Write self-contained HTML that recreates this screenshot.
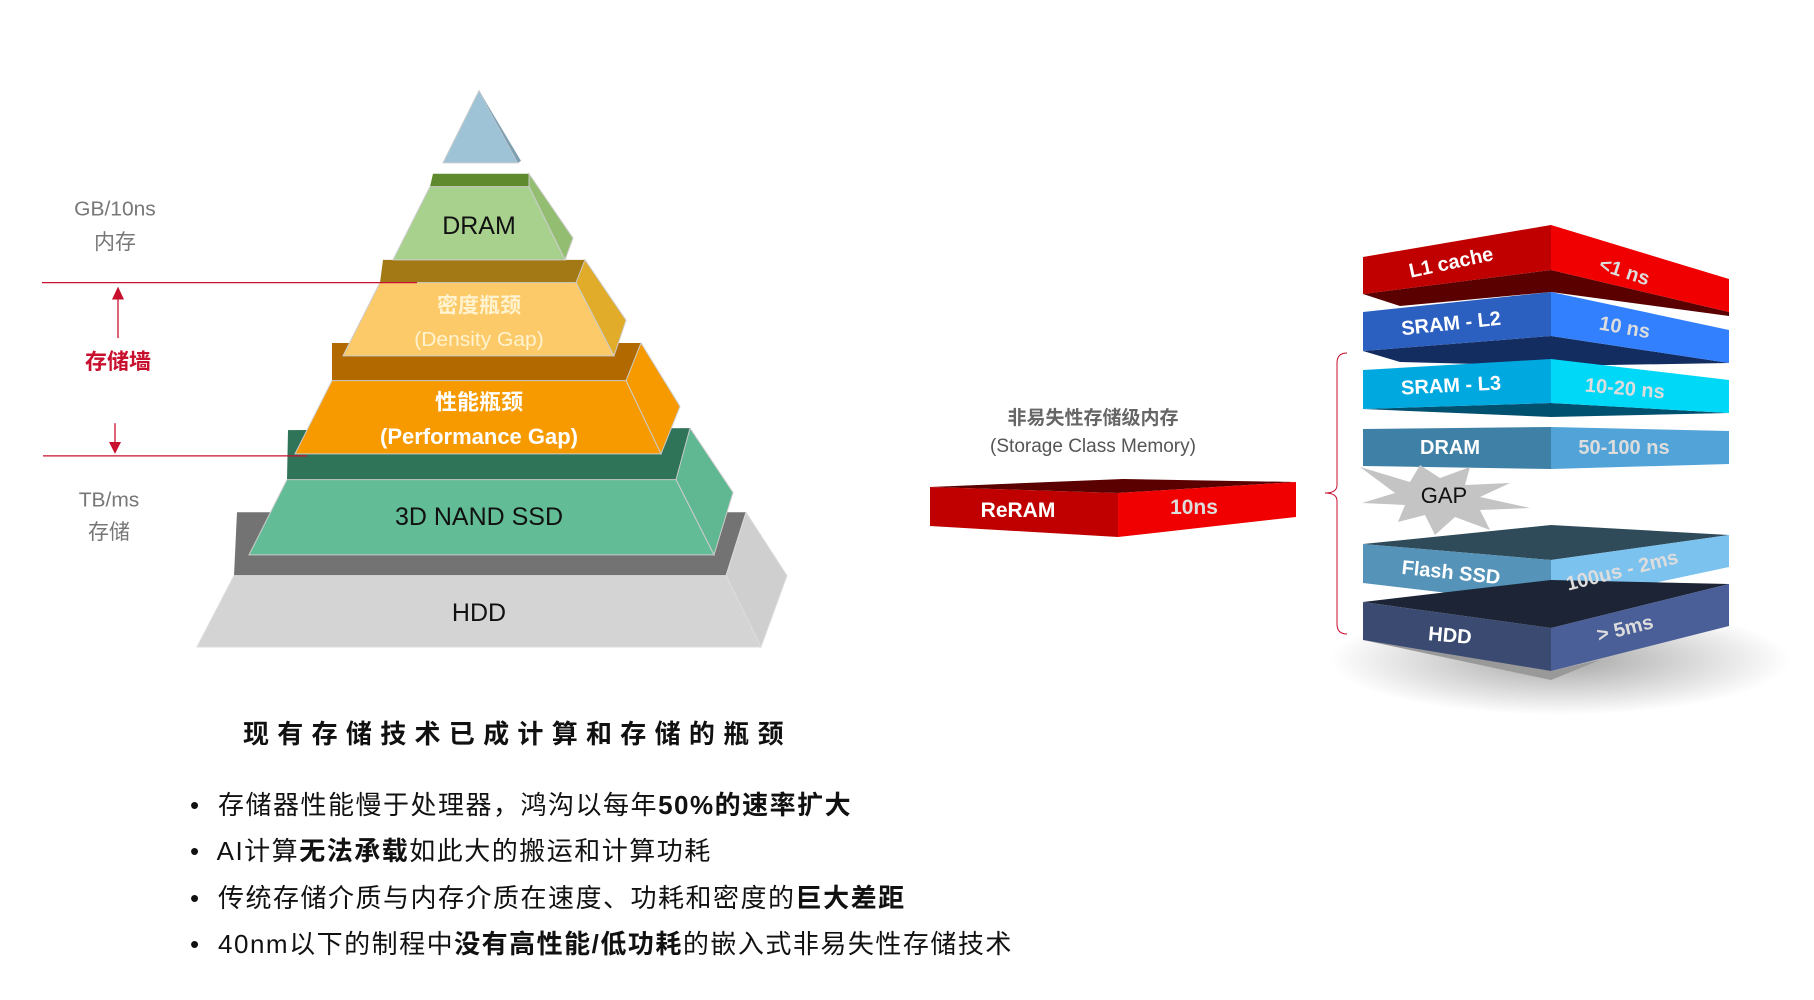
<!DOCTYPE html>
<html><head><meta charset="utf-8"><style>
body{margin:0;background:#fff;width:1814px;height:1000px;overflow:hidden;font-family:"Liberation Sans","Noto Sans CJK SC",sans-serif}
.t{position:absolute;white-space:nowrap}
</style></head><body>
<svg width="1814" height="1000" style="position:absolute;left:0;top:0" font-family="Liberation Sans, Noto Sans CJK SC, sans-serif">
<defs>
<radialGradient id="sh" cx="0.5" cy="0.5" r="0.5"><stop offset="0" stop-color="#000" stop-opacity="0.35"/><stop offset="1" stop-color="#000" stop-opacity="0"/></radialGradient>
</defs>
<g transform="matrix(1,0,0,0.99,0,-1.5)">
<!-- HDD -->
<polygon points="237,519 746,519 726,583 234,583" fill="#737373"/>
<polygon points="746,519 787,583 761,655 726,583" fill="#cfcfcf" stroke="#ddd"/>
<polygon points="234,583 726,583 761,655 197,655" fill="#d4d4d4" stroke="#ddd"/>
<!-- SSD -->
<polygon points="288,436 690,434 676,486 287,486" fill="#2f7358"/>
<polygon points="690,434 733,499 714,562 676,486" fill="#5fb892" stroke="#ccc"/>
<polygon points="287,486 676,486 714,562 249,562" fill="#62bd96" stroke="#ccc"/>
<!-- Perf -->
<polygon points="332,348 641,348 626,386 332,386" fill="#b26a00"/>
<polygon points="641,348 680,412 661,460 626,386" fill="#f79a00" stroke="#ccc"/>
<polygon points="332,386 626,386 661,460 295,460" fill="#f79a00" stroke="#ccc"/>
<!-- Density -->
<polygon points="383,264 585,264 576,287 380,287" fill="#a27914"/>
<polygon points="585,264 626,325 614,361 576,287" fill="#e0ac2a" stroke="#ccc"/>
<polygon points="380,287 576,287 614,361 343,361" fill="#fdca6a" stroke="#ccc"/>
<!-- DRAM -->
<polygon points="433,177 529,177 529,190 430,190" fill="#5f8a2d"/>
<polygon points="529,177 573,242 565,264 529,190" fill="#93be72" stroke="#ccc"/>
<polygon points="430,190 529,190 565,264 393,264" fill="#a9d18e" stroke="#ccc"/>
<!-- apex -->
<polygon points="479,93 443,166 518,166" fill="#9fc3d6" stroke="#ccc"/>
<polygon points="479,93 518,166 521,164" fill="#7f9fb3"/>
<text x="479" y="238" font-size="25" text-anchor="middle" fill="#111">DRAM</text>
<text x="479" y="317" font-size="21" font-weight="bold" text-anchor="middle" fill="#fff3d0">密度瓶颈</text>
<text x="479" y="351" font-size="21" text-anchor="middle" fill="#fff3d0">(Density Gap)</text>
<text x="479" y="415" font-size="22" font-weight="bold" text-anchor="middle" fill="#fff">性能瓶颈</text>
<text x="479" y="450" font-size="22" font-weight="bold" text-anchor="middle" fill="#fff">(Performance Gap)</text>
<text x="479" y="532" font-size="25" text-anchor="middle" fill="#111">3D NAND SSD</text>
<text x="479" y="629" font-size="25" text-anchor="middle" fill="#111">HDD</text>
<!-- left labels -->
<text x="115" y="219" font-size="21" text-anchor="middle" fill="#777">GB/10ns</text>
<text x="115" y="253" font-size="21" text-anchor="middle" fill="#777">内存</text>
<line x1="42" y1="287" x2="417" y2="287" stroke="#c8102e" stroke-width="1.3"/>
<line x1="118" y1="343" x2="118" y2="300" stroke="#c8102e" stroke-width="1.3"/>
<polygon points="112,304 124,304 118,291" fill="#c8102e"/>
<text x="118" y="374" font-size="22" font-weight="bold" text-anchor="middle" fill="#c8102e">存储墙</text>
<line x1="115" y1="429" x2="115" y2="452" stroke="#c8102e" stroke-width="1.3"/>
<polygon points="109,448 121,448 115,460" fill="#c8102e"/>
<line x1="43" y1="462" x2="307" y2="462" stroke="#c8102e" stroke-width="1.3"/>
<text x="109" y="513" font-size="21" text-anchor="middle" fill="#777">TB/ms</text>
<text x="109" y="546" font-size="21" text-anchor="middle" fill="#777">存储</text>
</g>
<!-- right stack -->
<ellipse cx="1560" cy="660" rx="230" ry="55" fill="url(#sh)"/>
<polygon points="1363,640 1551,671 1600,660 1551,680" fill="#999"/>
<!-- L1 -->
<polygon points="1363,294 1551,270 1729,312 1729,316 1551,292 1400,306" fill="#5a0000"/>
<polygon points="1363,257 1551,225 1551,270 1363,294" fill="#c00000"/>
<polygon points="1551,225 1729,279 1729,312 1551,270" fill="#f00000"/>
<!-- L2 -->
<polygon points="1363,351 1551,336 1729,363 1551,366 1400,362" fill="#132d60"/>
<polygon points="1363,312 1551,292 1551,336 1363,351" fill="#2b5fc0"/>
<polygon points="1551,292 1729,330 1729,363 1551,336" fill="#3380ff"/>
<!-- L3 -->
<polygon points="1363,409 1551,403 1729,413 1551,417" fill="#005070"/>
<polygon points="1363,370 1551,359 1551,403 1363,409" fill="#00a8e0"/>
<polygon points="1551,359 1729,380 1729,413 1551,403" fill="#00d8f8"/>
<!-- DRAM -->
<polygon points="1363,429 1551,427 1551,469 1363,466" fill="#3f80a6"/>
<polygon points="1551,427 1729,431 1729,464 1551,469" fill="#52a4d8"/>
<!-- GAP star -->
<polygon points="1360,467 1410,482 1420,465 1440,478 1470,467 1465,485 1510,483 1480,497 1530,508 1480,510 1490,530 1455,517 1435,535 1425,515 1398,522 1405,505 1362,503 1395,493" fill="#c4c4c4"/>
<!-- Flash -->
<polygon points="1363,544 1551,525 1729,535 1551,560" fill="#2f4b5a"/>
<polygon points="1363,544 1551,560 1551,605 1363,583" fill="#5593b8"/>
<polygon points="1551,560 1729,535 1729,567 1551,605" fill="#7cc2ee"/>
<!-- HDD -->
<polygon points="1363,602 1551,580 1729,584 1551,628" fill="#1c2435"/>
<polygon points="1363,602 1551,628 1551,671 1363,640" fill="#3b4a70"/>
<polygon points="1551,628 1729,584 1729,626 1551,671" fill="#4a5e98"/>
<g font-family="Liberation Sans Narrow, Liberation Sans, sans-serif" font-weight="bold" font-size="20" text-anchor="middle">
<text x="1451" y="269" fill="#fff" transform="rotate(-12 1451 262)">L1 cache</text>
<text x="1625" y="278" fill="#ddd" transform="rotate(18 1625 270)">&lt;1 ns</text>
<text x="1451" y="330" fill="#fff" transform="rotate(-6 1451 323)">SRAM - L2</text>
<text x="1625" y="334" fill="#ddd" transform="rotate(10 1625 326)">10 ns</text>
<text x="1451" y="392" fill="#fff" transform="rotate(-3 1451 385)">SRAM - L3</text>
<text x="1625" y="395" fill="#ddd" transform="rotate(5 1625 387)">10-20 ns</text>
<text x="1450" y="454" fill="#fff">DRAM</text>
<text x="1624" y="454" fill="#ddd">50-100 ns</text>
<text x="1451" y="579" fill="#fff" transform="rotate(6 1451 572)">Flash SSD</text>
<text x="1622" y="577" fill="#ddd" transform="rotate(-14 1622 570)">100us - 2ms</text>
<text x="1450" y="642" fill="#fff" transform="rotate(5 1450 635)">HDD</text>
<text x="1625" y="635" fill="#ddd" transform="rotate(-14 1625 628)">&gt; 5ms</text>
</g>
<text x="1444" y="503" font-size="22" text-anchor="middle" fill="#111">GAP</text>
<!-- bracket -->
<path d="M1347,353 Q1337,353 1337,363 L1337,485 Q1337,493 1325,493 Q1337,493 1337,501 L1337,624 Q1337,634 1347,634" fill="none" stroke="#c8102e" stroke-width="1"/>
<!-- ReRAM -->
<polygon points="930,487 1123,479 1296,482 1118,493" fill="#5a0000"/>
<polygon points="930,487 1118,493 1118,537 930,526" fill="#c00000"/>
<polygon points="1118,493 1296,482 1296,517 1118,537" fill="#f00000"/>
<text x="1018" y="517" font-family="Liberation Sans Narrow, Liberation Sans, sans-serif" font-weight="bold" font-size="21" text-anchor="middle" fill="#fff">ReRAM</text>
<text x="1194" y="514" font-family="Liberation Sans Narrow, Liberation Sans, sans-serif" font-weight="bold" font-size="21" text-anchor="middle" fill="#ddd">10ns</text>
<text x="1093" y="424" font-size="19" font-weight="bold" text-anchor="middle" fill="#666">非易失性存储级内存</text>
<text x="1093" y="452" font-size="19" text-anchor="middle" fill="#555">(Storage Class Memory)</text>
</svg>
<div class="t" style="left:243px;top:714px;font-size:26px;font-weight:bold;letter-spacing:8.3px;color:#111">现有存储技术已成计算和存储的瓶颈</div>
<div style="position:absolute;left:190px;top:782px;font-size:26px;color:#111;line-height:46.3px;letter-spacing:1.5px;white-space:nowrap">
<div>•&nbsp; 存储器性能慢于处理器，鸿沟以每年<b>50%的速率扩大</b></div>
<div>•&nbsp; AI计算<b>无法承载</b>如此大的搬运和计算功耗</div>
<div>•&nbsp; 传统存储介质与内存介质在速度、功耗和密度的<b>巨大差距</b></div>
<div>•&nbsp; 40nm以下的制程中<b>没有高性能/低功耗</b>的嵌入式非易失性存储技术</div>
</div>
</body></html>
